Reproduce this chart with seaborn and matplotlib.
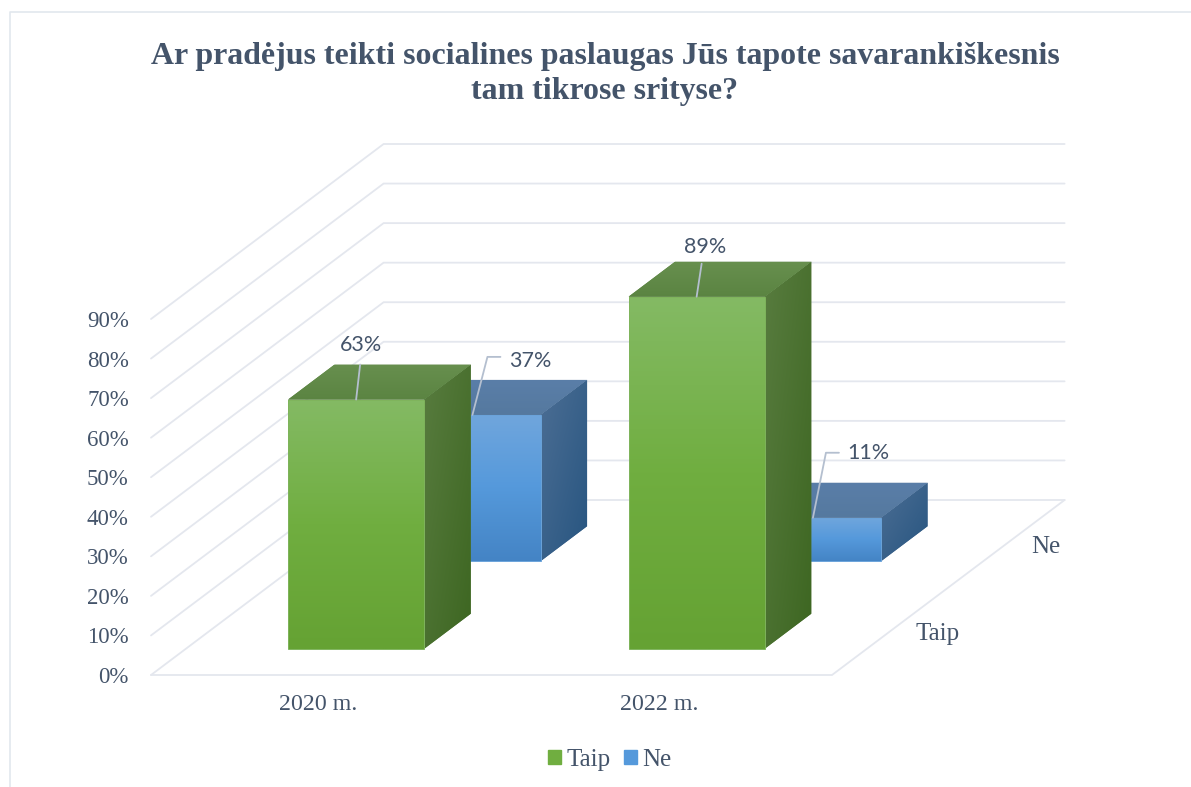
import numpy as np
import pandas as pd
import matplotlib
matplotlib.use("Agg")
import matplotlib.pyplot as plt
import seaborn as sns
from matplotlib.lines import Line2D
from matplotlib.patches import Patch, Polygon
from matplotlib.transforms import ScaledTranslation

# data
years = ["2020 m.", "2022 m."]
answers = ["Taip", "Ne"]
taip_values = [63, 89]
ne_values = [37, 11]
y_ticks = [0, 10, 20, 30, 40, 50, 60, 70, 80, 90]
title = "Ar pradėjus teikti socialines paslaugas Jūs tapote savarankiškesnis\ntam tikrose srityse?"

df = pd.DataFrame({
    "Year": years * 2,
    "Answer": ["Taip"] * 2 + ["Ne"] * 2,
    "Value": taip_values + ne_values,
})

TEXT = "#44546a"
GRID = "#e4e7ee"
W, H = 1191, 787
# plot box in pixels
LEFT, RIGHT, BOTTOM, TOP = 151, 832, 675, 319
PX_X = (RIGHT - LEFT) / 2
PX_Y = (BOTTOM - TOP) / 90
# one series step along the depth axis, in data units
DX = 116.3 / PX_X
DY = 87.5 / PX_Y
BAR_DEPTH = 0.4
GAP_DEPTH = 0.3

# front, side, top gradients
faces = {
    "Taip": {"front": ["#84ba64", "#70ae40", "#65a233"],
             "side": ["#587c3f", "#3d6621"],
             "top": ["#5b8442", "#678f4e"],
             "edge": "#7fb45c"},
    "Ne": {"front": ["#70a6dd", "#5599db", "#4484c5"],
           "side": ["#4c6e94", "#275580"],
           "top": ["#55799f", "#5a7ea8"],
           "edge": "#6aa3da"},
}

sns.set_style("white")
plt.rcParams["font.family"] = ["Liberation Serif", "DejaVu Sans"]

fig = plt.figure(figsize=(W / 100, H / 100), dpi=100)
ax = fig.add_axes([LEFT / W, (H - BOTTOM) / H, (RIGHT - LEFT) / W, (BOTTOM - TOP) / H])

sns.barplot(data=df, x="Year", y="Value", hue="Answer", hue_order=answers, palette=["#70ae40", "#5599db"],
            dodge=False, width=0.4, legend=False, ax=ax)
bars = list(ax.patches)


def deep(x, y, d):
    return x + d * DX, y + d * DY


def offset(x, y, dx, dy):
    # dx, dy in pixels, y going down
    return x + dx / PX_X, y - dy / PX_Y


def gradient(patch, colors, diagonal, zorder):
    cmap = matplotlib.colors.LinearSegmentedColormap.from_list("g", colors)
    v = np.linspace(0, 1, 128)
    if diagonal:
        img = (v[None, :] + v[:, None]) / 2
    else:
        img = np.tile(v[:, None], (1, 2))
    xy = patch.get_patch_transform().transform(patch.get_path().vertices)
    im = ax.imshow(img, cmap=cmap, vmin=0, vmax=1, aspect="auto", origin="upper", interpolation="bilinear",
                   extent=[xy[:, 0].min(), xy[:, 0].max(), xy[:, 1].min(), xy[:, 1].max()], zorder=zorder)
    # images get cut at the axes box otherwise, the boxes stick out of it
    im.set_clip_path(patch.get_path(), patch.get_transform())
    im.set_clip_box(fig.bbox)


# walls and floor grid
for t in y_ticks:
    x0, y0 = -0.5, t
    x1, y1 = deep(x0, t, 2)
    x2 = x1 + 2
    ax.plot([x0, x1, x2], [y0, y1, y1], color=GRID, lw=1.3, clip_on=False, zorder=1, solid_joinstyle="miter")
ax.plot([-0.5, 1.5, deep(1.5, 0, 2)[0]], [0, 0, deep(1.5, 0, 2)[1]], color=GRID, lw=1.3, clip_on=False, zorder=1,
        solid_joinstyle="miter")

# 3d boxes, series further back are drawn first
label_spots = {
    63: [(4, -35)], 89: [(5, -33)],
    37: [(15, -58), (28, -58)], 11: [(13, -65), (26, -65)],
}
text_spots = {63: (5, -55), 89: (8, -50), 37: (58, -54), 11: (55, -65)}
for s, name in enumerate(answers):
    style = faces[name]
    base_z = 3 + 2 * (1 - s)
    for i in range(len(years)):
        p = bars[s * len(years) + i]
        val = int(round(p.get_height()))
        x0, y0 = deep(p.get_x(), 0, s + GAP_DEPTH)
        w = p.get_width()
        dx, dy = BAR_DEPTH * DX, BAR_DEPTH * DY

        side = Polygon([(x0 + w, y0), (x0 + w + dx, y0 + dy), (x0 + w + dx, y0 + val + dy), (x0 + w, y0 + val)],
                       closed=True, fc=style["side"][0], ec="none", clip_on=False, zorder=base_z)
        ax.add_patch(side)
        gradient(side, style["side"], True, base_z)
        top = Polygon([(x0, y0 + val), (x0 + w, y0 + val), (x0 + w + dx, y0 + val + dy), (x0 + dx, y0 + val + dy)],
                      closed=True, fc=style["top"][0], ec="none", clip_on=False, zorder=base_z)
        ax.add_patch(top)
        gradient(top, style["top"][::-1], False, base_z)

        p.set_x(x0)
        p.set_y(y0)
        p.set_clip_on(False)
        p.set_zorder(base_z + 1)
        p.set_edgecolor("none")
        gradient(p, style["front"], False, base_z + 1)
        ax.add_patch(Polygon([(x0, y0), (x0, y0 + val), (x0 + w, y0 + val), (x0 + w, y0)], closed=True, fill=False,
                             ec=style["edge"], lw=0.7, clip_on=False, zorder=base_z + 1))

        # leader line and data label
        ax_x, ax_y = x0 + w / 2, y0 + val
        pts = [(ax_x, ax_y)] + [offset(ax_x, ax_y, *o) for o in label_spots[val]]
        ax.plot(*zip(*pts), color="#b4bfcf", lw=1.3, clip_on=False, zorder=8)
        tx, ty = offset(ax_x, ax_y, *text_spots[val])
        ax.text(tx, ty, f"{val}%", family="Lato", fontsize=15.5, color=TEXT, ha="center", va="center", zorder=9)

# depth axis labels
for s, name in enumerate(answers):
    x, y = offset(*deep(1.5, 0, s + 0.5), 25, 3)
    ax.text(x, y, name, fontsize=18, color=TEXT, ha="left", va="center", clip_on=False)

ax.set_xlim(-0.5, 1.5)
ax.set_ylim(0, 90)
ax.set_yticks(y_ticks)
ax.set_yticklabels([f"{t}%" for t in y_ticks])
ax.set_xlabel("")
ax.set_ylabel("")
ax.tick_params(axis="both", length=0, labelcolor=TEXT)
ax.tick_params(axis="y", pad=16, labelsize=16.5)
ax.tick_params(axis="x", pad=14, labelsize=17.2)
for lab in ax.get_xticklabels():
    lab.set_transform(lab.get_transform() + ScaledTranslation(-3 / 100, 0, fig.dpi_scale_trans))
ax.patch.set_alpha(0)
sns.despine(ax=ax, left=True, bottom=True)

fig.text(605 / W, 1 - 74 / H, title, ha="center", va="center", fontsize=22.95, fontweight="bold", color=TEXT,
         linespacing=1.25)

handles = [Patch(color=faces[a]["front"][1], label=a) for a in answers]
fig.legend(handles=handles, loc="center", bbox_to_anchor=(610 / W, 1 - 760 / H), ncol=2, frameon=False, fontsize=18,
           labelcolor=TEXT, handlelength=0.52, handleheight=0.52, handletextpad=0.2, columnspacing=0.55)

# chart frame, cut off by the screenshot on the right and bottom
fig.add_artist(Line2D([9.5 / W, 9.5 / W, 1], [0, 1 - 11.5 / H, 1 - 11.5 / H], color="#e2e7ee", lw=1.2))

fig.savefig("out.png", dpi=100)
